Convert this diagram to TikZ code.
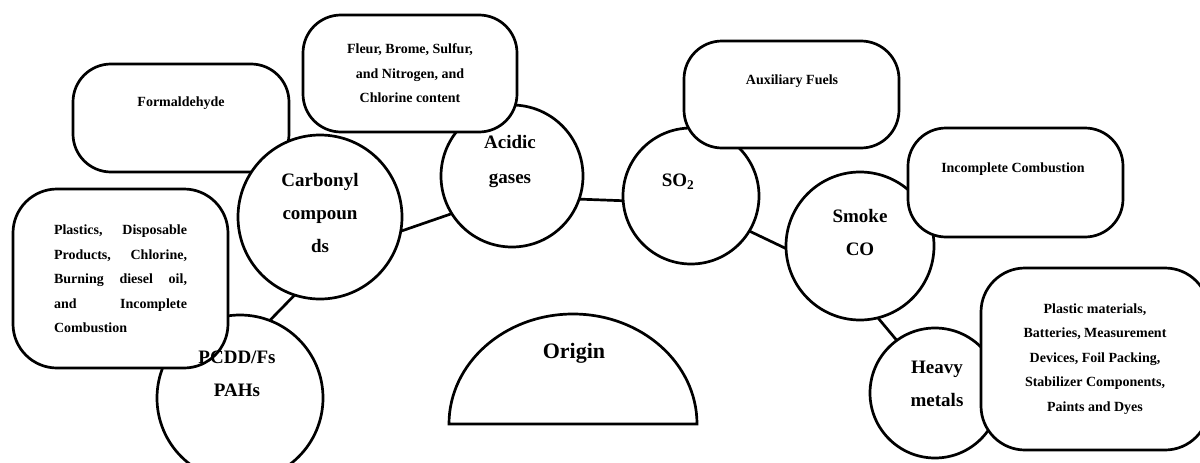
\documentclass[tikz,border=0pt]{standalone}
\usepackage{fontspec}
\setmainfont{Liberation Serif}
\begin{document}
\begin{tikzpicture}[x=1pt,y=-1pt,
  line width=2.7pt,
  circ/.style={circle,draw,fill=white,inner sep=0pt,outer sep=0pt},
  rbox/.style={rectangle,rounded corners=38pt,draw,fill=white,inner sep=0pt,outer sep=0pt},
  big/.style={font=\fontsize{19}{33}\selectfont\bfseries,align=center,inner sep=0pt},
  small/.style={font=\fontsize{14}{24.6}\selectfont\bfseries,align=center,inner sep=0pt},
]
\useasboundingbox (0,0) rectangle (1200,463);

% box behind the Carbonyl circle
\node[rbox,minimum width=216pt,minimum height=108pt] (formbox) at (181,118) {};
\node[small] (formtxt) at (181,103) {Formaldehyde};

% circles
\node[circ,minimum size=166pt] (pcdd) at (240,398) {};
\node[circ,minimum size=164pt] (carb) at (320,217) {};
\node[circ,minimum size=142pt] (acid) at (512,176) {};
\node[circ,minimum size=136pt] (so2) at (691,196) {};
\node[circ,minimum size=148pt] (smoke) at (860,246) {};
\node[circ,minimum size=130pt] (heavy) at (935,393) {};

% connectors
\draw (pcdd.69) -- (carb.252);
\draw (carb.-10) -- (acid.212);
\draw (acid.-19) -- (so2.184);
\draw (so2.-31) -- (smoke.182);
\draw (smoke.-76) -- (heavy.126);

% boxes on top of circles
\node[rbox,small,minimum width=214pt,minimum height=117pt] (fleur) at (410,73.5)
  {Fleur, Brome, Sulfur,\\and Nitrogen, and\\Chlorine content};
\node[rbox,minimum width=215pt,minimum height=107pt] (auxbox) at (791.5,94.5) {};
\node[small] (auxtxt) at (792,81) {Auxiliary Fuels};
\node[rbox,minimum width=215pt,minimum height=109pt] (incbox) at (1015.5,182.5) {};
\node[small] (inctxt) at (1013,169) {Incomplete Combustion};
\node[rbox,small,rounded corners=44pt,minimum width=228pt,minimum height=182pt] (plastbox) at (1095,359)
  {Plastic materials,\\Batteries, Measurement\\Devices, Foil Packing,\\Stabilizer Components,\\Paints and Dyes};
\node[rbox,rounded corners=44pt,minimum width=215pt,minimum height=179pt] (leftbox) at (120.5,278.5) {};
\node[small,text width=133pt,align=left] (lefttxt) at (120.5,279)
  {Plastics,\hfill Disposable\\Products,\hfill Chlorine,\\Burning\hfill diesel\hfill oil,\\and\hfill Incomplete\\Combustion};

% circle texts (on top of everything)
\node[big] (pcddtxt) at (237,374) {PCDD/Fs\\PAHs};
\node[big] (carbtxt) at (320,213) {Carbonyl\\compoun\\ds};
\node[big,font=\fontsize{19}{35}\selectfont\bfseries] (acidtxt) at (510,162) {Acidic\\gases};
\node[big] (so2txt) at (678,182) {SO\textsubscript{2}};
\node[big] (smoketxt) at (860,232) {Smoke\\CO};
\node[big] (heavytxt) at (937,384) {Heavy\\metals};

% origin
\draw (449,424) arc[start angle=180,end angle=0,x radius=124pt,y radius=110pt] -- cycle;
\node[font=\fontsize{22}{26}\selectfont\bfseries,inner sep=0pt] (origin) at (574,353) {Origin};
\end{tikzpicture}
\end{document}
